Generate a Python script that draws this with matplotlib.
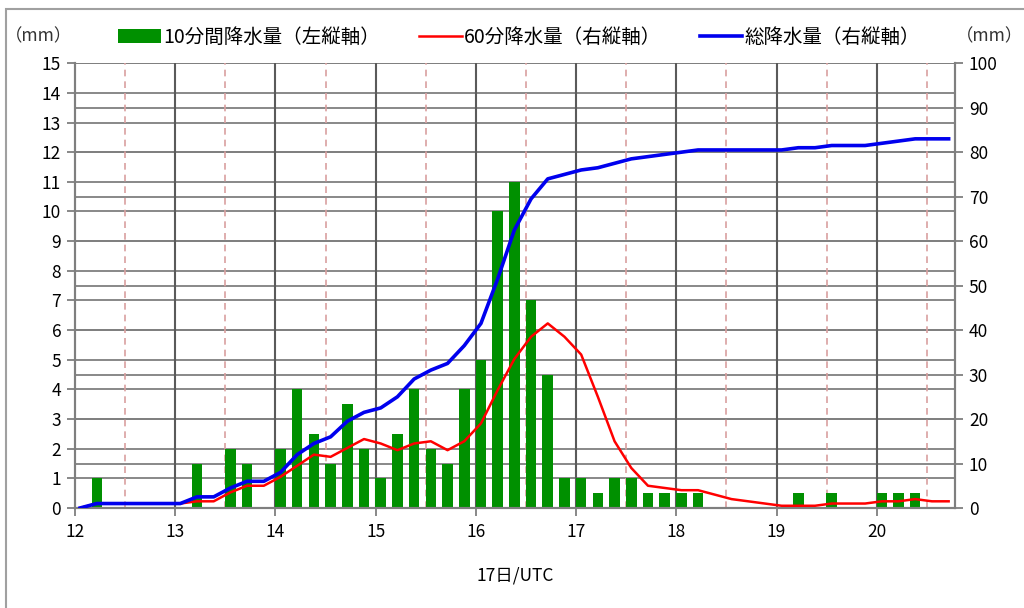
import matplotlib

matplotlib.use("Agg")

import matplotlib.pyplot as plt
import numpy as np
from matplotlib.lines import Line2D
from matplotlib.patches import Patch, Rectangle

plt.rcParams["font.family"] = ["Noto Sans CJK JP", "DejaVu Sans"]

# 10-minute slots starting at 12:03 UTC
START_HOUR = 12.0
START_MIN = 3
SLOT_MIN = 10

# 10分間降水量 (left axis, mm)
rain_10min = [
    0, 1, 0, 0, 0, 0, 0, 1.5, 0, 2, 1.5, 0, 2, 4, 2.5, 1.5, 3.5, 2, 1, 2.5,
    4, 2, 1.5, 4, 5, 10, 11, 7, 4.5, 1, 1, 0.5, 1, 1, 0.5, 0.5, 0.5, 0.5, 0, 0,
    0, 0, 0, 0.5, 0, 0.5, 0, 0, 0.5, 0.5, 0.5, 0, 0,
]
# 60分降水量 (right axis, mm)
rain_60min = [
    0, 1, 1, 1, 1, 1, 1, 1.5, 1.5, 3.5, 5, 5, 7, 9.5, 12, 11.5, 13.5, 15.5, 14.5, 13,
    14.5, 15, 13, 15, 19, 26.5, 33.5, 38.5, 41.5, 38.5, 34.5, 25, 15, 9, 5, 4.5, 4, 4, 3, 2,
    1.5, 1, 0.5, 0.5, 0.5, 1, 1, 1, 1.5, 1.5, 2, 1.5, 1.5,
]
# 総降水量 (right axis, mm)
rain_total = [
    0, 1, 1, 1, 1, 1, 1, 2.5, 2.5, 4.5, 6, 6, 8, 12, 14.5, 16, 19.5, 21.5, 22.5, 25,
    29, 31, 32.5, 36.5, 41.5, 51.5, 62.5, 69.5, 74, 75, 76, 76.5, 77.5, 78.5, 79, 79.5, 80, 80.5, 80.5, 80.5,
    80.5, 80.5, 80.5, 81, 81, 81.5, 81.5, 81.5, 82, 82.5, 83, 83, 83,
]
hour_ticks = [12, 13, 14, 15, 16, 17, 18, 19, 20]

times = START_HOUR + (START_MIN + SLOT_MIN * np.arange(len(rain_10min))) / 60.0
rain_10min = np.array(rain_10min)

fig = plt.figure(figsize=(10.24, 6.08), dpi=100)
ax = fig.add_axes([0.0733, 0.1645, 0.8593, 0.7315])
ax2 = ax.twinx()

grid_color = "#7f7f7f"
# horizontal grid: left axis every 1 mm, right axis every 10 mm
for v in range(1, 16):
    ax.axhline(v, color=grid_color, lw=1.3, zorder=0.5)
for v in range(10, 101, 10):
    ax.axhline(v * 15 / 100, color=grid_color, lw=1.3, zorder=0.5)
for h in hour_ticks[1:]:
    ax.axvline(h, color="#5a5a5a", lw=1.5, zorder=0.6)
for h in hour_ticks:
    ax.axvline(h + 0.5, color="#d9a0a0", lw=1.2, ls=(0, (4, 3)), zorder=0.6)

mask = rain_10min > 0
ax.bar(times[mask], rain_10min[mask], width=0.105, color="#009000", zorder=2)

ax2.plot(times, rain_60min, color="#ff0000", lw=1.8, zorder=3)
ax2.plot(times, rain_total, color="#0000ee", lw=2.6, zorder=4)

ax.set_xlim(12, 20.78)
ax.set_ylim(0, 15)
ax2.set_ylim(0, 100)
ax.set_yticks(range(0, 16))
ax2.set_yticks(range(0, 101, 10))
ax.set_xticks(hour_ticks)
ax.set_xticklabels([str(h) for h in hour_ticks])

for a in (ax, ax2):
    a.tick_params(axis="both", labelsize=12.5, length=6, width=1.3, color="#7f7f7f", pad=4)
    a.spines["top"].set_visible(False)
    for side in ("left", "right", "bottom"):
        a.spines[side].set_color("#7f7f7f")
        a.spines[side].set_linewidth(1.5)
ax.tick_params(axis="x", pad=5)

ax.set_xlabel("17日/UTC", fontsize=12.5, labelpad=18)

fig.text(0.038, 0.94, "（mm）", fontsize=12.5, ha="center", va="center", color="#333333")
fig.text(0.966, 0.94, "（mm）", fontsize=12.5, ha="center", va="center", color="#333333")

handles = [
    Patch(facecolor="#009000", edgecolor="none"),
    Line2D([], [], color="#ff0000", lw=1.8),
    Line2D([], [], color="#0000ee", lw=2.6),
]
labels = ["10分間降水量（左縦軸）", "60分降水量（右縦軸）", "総降水量（右縦軸）"]
fig.legend(handles, labels, loc="center", bbox_to_anchor=(0.507, 0.939), ncol=3, frameon=False,
           fontsize=14, handlelength=2.2, handletextpad=0.1, columnspacing=2.0)

fig.patches.append(Rectangle((0.006, -0.01), 1.0, 0.995, transform=fig.transFigure,
                             fill=False, edgecolor="#a0a0a0", lw=1.5))

fig.savefig("out.png", dpi=100)
